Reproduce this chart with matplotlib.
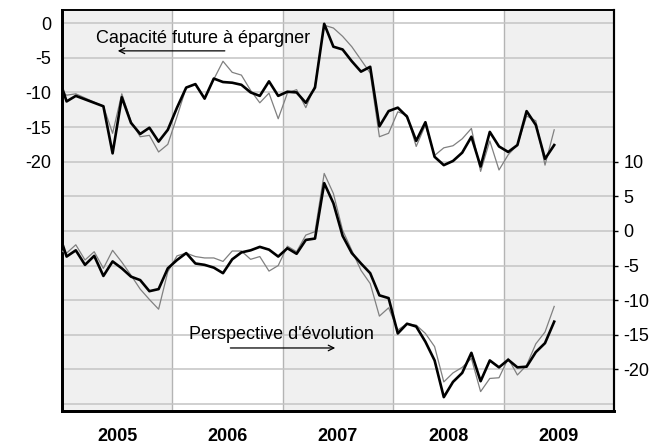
import numpy as np
import matplotlib
matplotlib.use("Agg")
import matplotlib.pyplot as plt

plt.rcParams['font.family'] = ['Liberation Sans', 'DejaVu Sans']

# month index: -1 = Dec 2004, 0 = Jan 2005 ... 53 = Jun 2009
months = list(range(-1, 54))

capacite_black = [-7.3, -11.3, -10.5, -11.0, -11.5, -12.0, -18.8, -10.7, -14.4, -16.0, -15.1,
                  -17.1, -15.4, -12.2, -9.3, -8.8, -10.9, -8.0, -8.5, -8.6, -8.9, -10.0,
                  -10.5, -8.4, -10.5, -9.9, -10.0, -11.5, -9.3, -0.1, -3.4, -3.8, -5.5,
                  -7.0, -6.3, -14.9, -12.7, -12.2, -13.5, -17.0, -14.3, -19.3, -20.5,
                  -19.9, -18.7, -16.4, -20.7, -15.7, -17.8, -18.6, -17.6, -12.7, -14.7,
                  -19.6, -17.6]
capacite_grey = [-9.4, -10.4, -10.2, -10.8, -11.4, -12.0, -15.9, -10.2, -14.2, -16.4, -16.2,
                 -18.6, -17.5, -13.5, -9.3, -8.8, -10.8, -8.1, -5.5, -7.1, -7.5, -9.7,
                 -11.5, -10.1, -13.8, -10.1, -9.6, -12.2, -9.0, -0.3, -0.7, -1.9, -3.4,
                 -5.3, -7.2, -16.4, -15.9, -12.8, -13.3, -17.8, -14.7, -19.1, -18.0,
                 -17.7, -16.7, -15.2, -21.4, -17.0, -21.2, -19.0, -17.6, -13.4, -14.1,
                 -20.5, -15.4]
perspective_black = [0.3, -3.7, -2.8, -4.9, -3.6, -6.5, -4.4, -5.4, -6.6, -7.1, -8.7,
                     -8.4, -5.4, -4.2, -3.2, -4.7, -4.9, -5.3, -6.1, -4.1, -3.1, -2.8,
                     -2.3, -2.7, -3.7, -2.5, -3.3, -1.3, -1.1, 6.9, 4.0, -0.7, -3.2,
                     -4.7, -6.1, -9.3, -9.7, -14.8, -13.4, -13.8, -16.0, -18.7, -24.0,
                     -21.8, -20.5, -17.6, -21.7, -18.7, -19.7, -18.6, -19.7, -19.6, -17.5,
                     -16.2, -13.1]
perspective_grey = [-2.6, -3.2, -2.0, -4.2, -3.0, -5.4, -2.8, -4.5, -6.4, -8.4, -9.9,
                    -11.3, -5.9, -3.6, -3.2, -3.7, -3.9, -3.9, -4.4, -2.9, -2.9, -4.1,
                    -3.7, -5.8, -5.0, -2.2, -3.0, -0.6, -0.1, 8.3, 5.4, 0.1, -2.8,
                    -5.7, -7.6, -12.3, -11.1, -14.3, -13.4, -13.6, -14.8, -16.7, -21.8,
                    -20.5, -19.7, -18.4, -23.2, -21.3, -21.2, -18.4, -20.8, -19.4, -16.3,
                    -14.6, -10.9]

years = [2005, 2006, 2007, 2008, 2009]
left_ticks = [0, -5, -10, -15, -20]
right_ticks = [10, 5, 0, -5, -10, -15, -20]

x = 2005 + (np.array(months) + 0.5) / 12.0

fig = plt.figure(figsize=(6.66, 4.44), dpi=100)
ax = fig.add_axes([62/666, 33/444, 552/666, 401/444])
ax.set_xlim(2005, 2010)
ax.set_ylim(-56, 1.9)

# alternating year bands
for i, yr in enumerate(years):
    if i % 2 == 0:
        ax.axvspan(yr, yr + 1, color='#f0f0f0', zorder=0, lw=0)
for yr in years[1:]:
    ax.axvline(yr, color='#b4b4b4', lw=1.0, zorder=1)
for g in np.arange(0, -56, -5):
    ax.axhline(g, color='#c4c4c4', lw=1.1, zorder=1)

ax.plot(x, capacite_grey, color='#808080', lw=0.9, zorder=3)
ax.plot(x, capacite_black, color='black', lw=1.9, zorder=4)

ax.set_xticks([y + 0.5 for y in years])
ax.set_xticklabels([str(y) for y in years], fontsize=13, fontweight='bold')
ax.tick_params(axis='x', length=0, pad=12)
ax.set_yticks(left_ticks)
ax.set_yticklabels([str(t) for t in left_ticks], fontsize=13)
ax.tick_params(axis='y', length=0, pad=8)

ax2 = ax.twinx()
ax2.set_ylim(-26, 31.9)
ax2.plot(x, perspective_grey, color='#808080', lw=0.9, zorder=3)
ax2.plot(x, perspective_black, color='black', lw=1.9, zorder=4)
ax2.set_yticks(right_ticks)
ax2.set_yticklabels([str(t) for t in right_ticks], fontsize=13)
ax2.tick_params(axis='y', length=3, width=1, pad=4, direction='out')

for a in (ax, ax2):
    a.spines['left'].set_linewidth(2.0)
    a.spines['bottom'].set_linewidth(2.0)
    a.spines['top'].set_linewidth(1.2)
    a.spines['right'].set_linewidth(1.5)
    for s in a.spines.values():
        s.set_color('black')

ax.text(2005.31, -2.2, "Capacité future à épargner", fontsize=13, ha='left', va='center', zorder=6)
ax.annotate("", xy=(2005.48, -4.0), xytext=(2006.5, -4.0),
            arrowprops=dict(arrowstyle='->', color='black', lw=0.9), zorder=6)
ax2.text(2006.15, -15.0, "Perspective d'évolution", fontsize=13, ha='left', va='center', zorder=6)
ax2.annotate("", xy=(2007.5, -16.9), xytext=(2006.5, -16.9),
             arrowprops=dict(arrowstyle='->', color='black', lw=0.9), zorder=6)

fig.savefig("out.png", dpi=100)
